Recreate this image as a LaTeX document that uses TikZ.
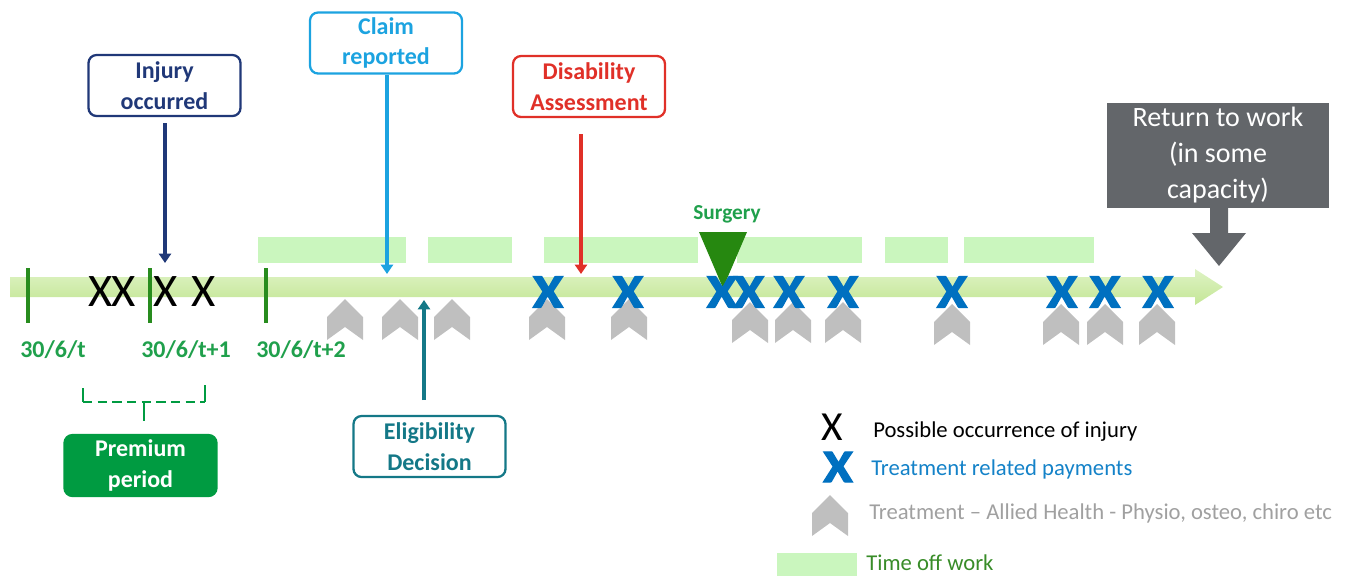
\documentclass[tikz,border=0pt]{standalone}
\usepackage{fontspec}
\setmainfont{Carlito}
\newfontfamily\heavyx{Carlito}[FakeBold=2.5]
\usetikzlibrary{arrows.meta,calc}
\definecolor{offgreen}{RGB}{202,246,190}
\definecolor{barTop}{RGB}{222,243,196}
\definecolor{barBot}{RGB}{196,230,150}
\definecolor{tickgreen}{RGB}{40,140,30}
\definecolor{dategreen}{RGB}{32,160,76}
\definecolor{surggreen}{RGB}{38,136,16}
\definecolor{xblue}{RGB}{0,112,192}
\definecolor{chevgray}{RGB}{191,191,191}
\definecolor{navy}{RGB}{32,56,120}
\definecolor{claimblue}{RGB}{28,163,224}
\definecolor{disred}{RGB}{224,48,40}
\definecolor{eligteal}{RGB}{20,120,135}
\definecolor{premgreen}{RGB}{0,155,65}
\definecolor{rtwgray}{RGB}{99,102,106}
\definecolor{lgblue}{RGB}{20,130,200}
\definecolor{lggray}{RGB}{160,160,160}
\definecolor{lggreen}{RGB}{56,140,40}
\begin{document}
\begin{tikzpicture}[x=0.75pt,y=-0.75pt,
  offwork/.style={fill=offgreen},
  tickmark/.style={draw=tickgreen, line width=2.3pt},
  datelbl/.style={text=dategreen, font=\fontsize{18}{20}\selectfont\bfseries, inner sep=0pt},
  blackx/.style={inner sep=0pt, font=\fontsize{35}{35}\selectfont},
  bluex/.style={inner sep=0pt, text=xblue, font=\fontsize{36}{36}\heavyx\bfseries, xscale=1.15},
  callout/.style={rounded corners=6pt, line width=1.7pt, minimum width=114pt, minimum height=45.75pt, inner sep=0pt, align=center, font=\fontsize{18}{23}\selectfont\bfseries},
  arr/.style={line width=2.6pt, -{Triangle[width=9pt,length=7pt]}},
  chev/.pic={\fill[chevgray] (-18,18) -- (0,0) -- (18,18) -- (18,41) -- (0,28) -- (-18,41) -- cycle;},
  lgtext/.style={inner sep=0pt, font=\fontsize{17}{18}\selectfont},
  bracket/.style={draw=premgreen, line width=2.2pt},
  rtwbox/.style={fill=rtwgray, text=white, minimum width=166.5pt, minimum height=78.75pt, inner sep=0pt, align=center, font=\fontsize{21}{27}\selectfont}
]
\useasboundingbox (0,0) rectangle (1347,576);

% time off work
\foreach \a/\b in {258/406, 428/512, 544/698, 737/862, 885/948, 964/1094}
  \fill[offwork] (\a,237) rectangle (\b,263);

% timeline
\shade[top color=barTop, bottom color=barBot]
  (10,277) -- (1195,277) -- (1195,269) -- (1223,287) -- (1195,305) -- (1195,297) -- (10,297) -- cycle;

% year ticks
\foreach \x in {28,150,266}
  \draw[tickmark] (\x,268) -- (\x,323);

\node[datelbl, anchor=base west] (d0) at (20,357) {30/6/t};
\node[datelbl, anchor=base west] (d1) at (141,357) {30/6/t+1};
\node[datelbl, anchor=base west] (d2) at (256,357) {30/6/t+2};

% possible injury
\foreach \x [count=\i] in {101,124,166,204}
  \node[blackx] (bx\i) at (\x,292) {X};

% chevrons
\foreach \x/\y in {345/299, 400/299, 452/299, 547/299, 629/299, 750/302, 793/302, 843/302, 952/304, 1061/304, 1105/304, 1157/304}
  \pic at (\x,\y) {chev};

% surgery
\fill[surggreen] (699,232) -- (747,232) -- (723,288) -- cycle;
\node[text=dategreen, font=\fontsize{16}{18}\selectfont\bfseries, inner sep=0pt, anchor=base] (surg) at (727,219) {Surgery};

% payments
\foreach \x [count=\i] in {548,628,722,749,789,843,952,1062,1105,1158}
  \node[bluex] (px\i) at (\x,292) {X};

% callouts
\node[callout, draw=navy, text=navy] (inj) at (164.5,85.5) {Injury\\occurred};
\coordinate (injT) at (165,263);
\draw[arr, navy, shorten <=4.5pt] (inj.south -| injT) -- (injT);

\node[callout, draw=claimblue, text=claimblue] (claim) at (386,43) {Claim\\reported};
\coordinate (claimT) at (387,274);
\draw[arr, claimblue] (claim.south -| claimT) -- (claimT);

\node[callout, draw=disred, text=disred] (dis) at (589,86.5) {Disability\\Assessment};
\coordinate (disT) at (581,274);
\draw[arr, disred, shorten <=12pt] (dis.south -| disT) -- (disT);

\node[callout, draw=eligteal, text=eligteal] (elig) at (429.5,446.5) {Eligibility\\Decision};
\coordinate (eligT) at (424,300);
\draw[arr, eligteal, shorten <=11pt] (elig.north -| eligT) -- (eligT);

\node[callout, fill=premgreen, draw=premgreen, text=white] (prem) at (140.5,465.5) {Premium\\period};
\draw[bracket] (83,388) -- (83,402);
\draw[bracket] (205,385) -- (205,402);
\draw[bracket, dash pattern=on 7pt off 4pt] (83,402) -- (205,402);
\draw[bracket] (144,402) -- (144,421);

% return to work
\node[rtwbox] (rtw) at (1218,155.5) {Return to work\\(in some\\capacity)};
\fill[rtwgray] (1210,207) -- (1228,207) -- (1228,233) -- (1246,233) -- (1219,266) -- (1192,233) -- (1210,233) -- cycle;

% legend
\node[blackx, font=\fontsize{31}{31}\selectfont] (lgx) at (832,427) {X};
\node[lgtext, anchor=base west] (lg1) at (873,437) {Possible occurrence of injury};
\node[bluex, font=\fontsize{35}{35}\heavyx\bfseries] (lgbx) at (838,467) {X};
\node[lgtext, text=lgblue, anchor=base west] (lg2) at (871,475) {Treatment related payments};
\pic at (830,495) {chev};
\node[lgtext, text=lggray, anchor=base west] (lg3) at (869,519) {Treatment – Allied Health - Physio, osteo, chiro etc};
\fill[offwork] (777,553) rectangle (857,576);
\node[lgtext, text=lggreen, anchor=base west] (lg4) at (866,570) {Time off work};
\end{tikzpicture}
\end{document}
